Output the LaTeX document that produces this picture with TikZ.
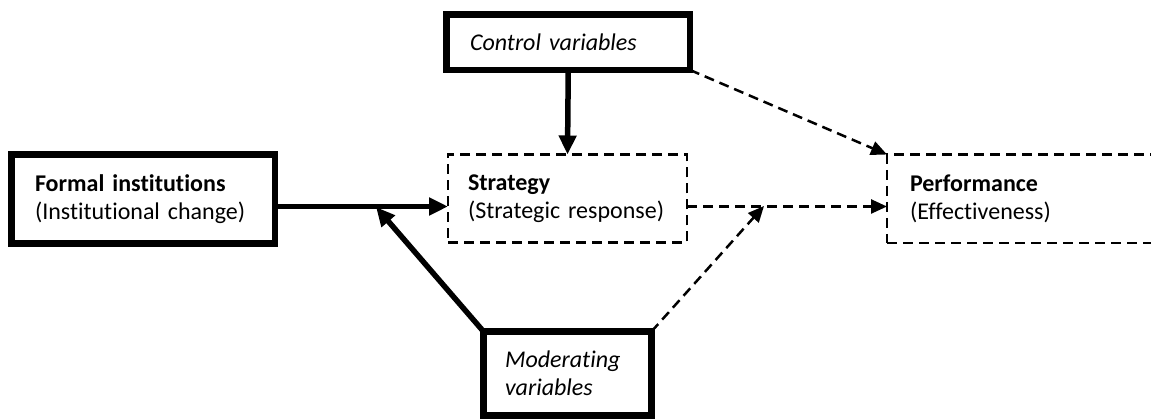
\documentclass[tikz,border=0pt]{standalone}
\usepackage{fontspec}
\setmainfont{Carlito}[Ligatures={NoCommon,NoRare}]
\usetikzlibrary{arrows.meta}
\tikzset{
  solidbox/.style={draw, line width=6.5pt, outer sep=0pt, anchor=north west, align=left, font=\fontsize{24}{28.5}\selectfont},
  dashbox/.style={draw, line width=2.5pt, dash pattern=on 10pt off 6pt, outer sep=0pt, anchor=north west, align=left, font=\fontsize{24}{28.5}\selectfont},
  thickarrow/.style={line width=5.5pt, -{Triangle[length=19pt,width=17pt]}},
  dasharrow/.style={line width=2.5pt, dash pattern=on 10pt off 6pt, -{Triangle[length=16pt,width=14pt]}}
}
\begin{document}
\begin{tikzpicture}[x=1pt,y=-1pt]
\useasboundingbox (0,0) rectangle (1151,419);
\node[solidbox, minimum width=263.5pt, minimum height=89pt, inner xsep=23.5pt, text width=216.5pt] (formal) at (11.5,154.5)
  {\textbf{Formal institutions}\\(Institutional change)};
\node[dashbox, minimum width=239pt, minimum height=88pt, inner xsep=20pt, text width=199pt] (strategy) at (448,154.5)
  {\textbf{Strategy}\\(Strategic response)};
\node[dashbox, minimum width=300pt, minimum height=88.5pt, inner xsep=23pt, text width=254pt] (perf) at (887,154.5)
  {\textbf{Performance}\\(Effectiveness)};
\node[solidbox, minimum width=243.5pt, minimum height=55.5pt, inner xsep=23.5pt, text width=196.5pt] (control) at (446.5,14.5)
  {\textit{Control variables}};
\node[solidbox, minimum width=168pt, minimum height=84pt, inner xsep=21.5pt, text width=125pt] (mod) at (483.5,331.5)
  {\textit{Moderating}\\\textit{variables}};
\coordinate (hy) at (0,206.5);
\coordinate (j1) at (376,207);
\coordinate (j2) at (764,206);
\draw[thickarrow] (formal.east |- hy) -- (strategy.west |- hy);
\draw[thickarrow] (mod.north west) -- (j1);
\draw[thickarrow] (control.south) -- (strategy.north);
\draw[dasharrow] (control.south east) -- (perf.north west);
\draw[dasharrow] (strategy.east |- hy) -- (perf.west |- hy);
\draw[dasharrow] (mod.north east) -- (j2);
\end{tikzpicture}
\end{document}
